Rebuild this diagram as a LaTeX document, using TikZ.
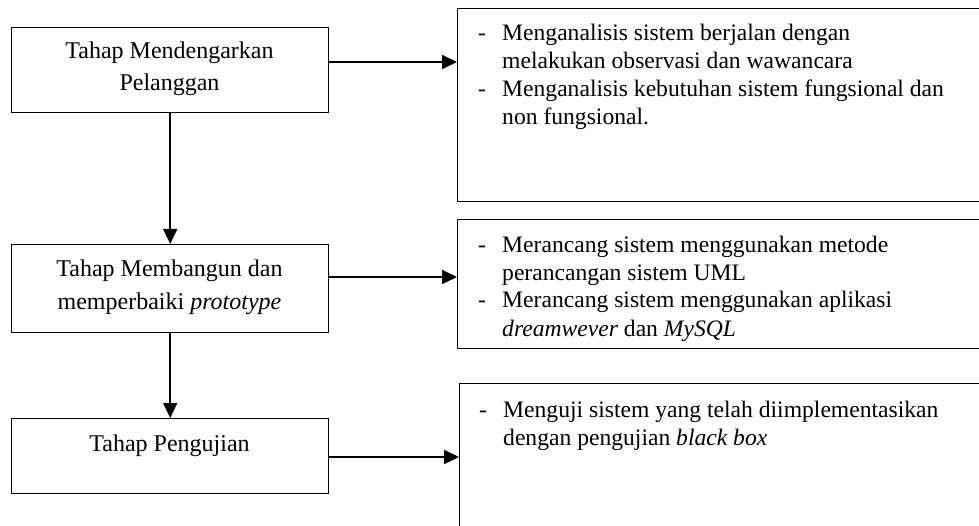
\documentclass[tikz,border=0pt]{standalone}
\usepackage{fontspec}
\setmainfont{Liberation Serif}
\usetikzlibrary{arrows.meta}
\begin{document}
\begin{tikzpicture}[x=1pt,y=-1pt,
  box/.style={draw, line width=1.4pt, rectangle, inner sep=0pt, anchor=north west},
  arr/.style={line width=1.7pt, -{Triangle[length=15pt,width=14pt]}},
  txt/.style={inner sep=0pt, font=\fontsize{24}{28}\selectfont},
  rtxt/.style={inner sep=0pt, font=\fontsize{23.6}{28}\selectfont},
  ctxt/.style={txt, anchor=base},
  dtxt/.style={rtxt, anchor=base},
  ltxt/.style={rtxt, anchor=base west},
]
\useasboundingbox (0,0) rectangle (979,526);
\clip (0,0) rectangle (979,526);
% left boxes
\node[box, minimum width=317pt, minimum height=85pt] (b1) at (11,27) {};
\node[box, minimum width=317pt, minimum height=88pt] (b2) at (11,244) {};
\node[box, minimum width=317pt, minimum height=75pt] (b3) at (11,418) {};
% right boxes (run off the page)
\node[box, minimum width=600pt, minimum height=193pt] (r1) at (457,8) {};
\node[box, minimum width=600pt, minimum height=129pt] (r2) at (457,219) {};
\node[box, minimum width=600pt, minimum height=220pt] (r3) at (459,383) {};
% left texts
\node[ctxt] (b1a) at (169.5,59) {Tahap Mendengarkan};
\node[ctxt] (b1b) at (169.5,91) {Pelanggan};
\node[ctxt] (b2a) at (169.5,277) {Tahap Membangun dan};
\node[ctxt] (b2b) at (169.5,309) {memperbaiki \textit{prototype}};
\node[ctxt] (b3a) at (169.5,451) {Tahap Pengujian};
% right texts box 1
\node[dtxt] (d11) at (482,41) {-};
\node[ltxt] (r1a) at (502,41) {Menganalisis sistem berjalan dengan};
\node[ltxt] (r1b) at (502,69) {melakukan observasi dan wawancara};
\node[dtxt] (d12) at (482,97) {-};
\node[ltxt] (r1c) at (502,97) {Menganalisis kebutuhan sistem fungsional dan};
\node[ltxt] (r1d) at (502,125) {non fungsional.};
% right texts box 2
\node[dtxt] (d21) at (482,253) {-};
\node[ltxt] (r2a) at (502,253) {Merancang sistem menggunakan metode};
\node[ltxt] (r2b) at (502,281) {perancangan sistem UML};
\node[dtxt] (d22) at (482,308) {-};
\node[ltxt] (r2c) at (502,308) {Merancang sistem menggunakan aplikasi};
\node[ltxt] (r2d) at (502,336) {\textit{dreamwever} dan \textit{MySQL}};
% right texts box 3
\node[dtxt] (d31) at (483,417) {-};
\node[ltxt] (r3a) at (503,417) {Menguji sistem yang telah diimplementasikan};
\node[ltxt] (r3b) at (503,445) {dengan pengujian \textit{black box}};
% connectors
\coordinate (h1) at (0,62);
\coordinate (h2) at (0,277);
\coordinate (h3) at (0,457);
\draw[arr] (b1.east |- h1) -- (r1.west |- h1);
\draw[arr] (b2.east |- h2) -- (r2.west |- h2);
\draw[arr] (b3.east |- h3) -- (r3.west |- h3);
\draw[arr] (b1.south) -- (b2.north);
\draw[arr] (b2.south) -- (b3.north);
\end{tikzpicture}
\end{document}
